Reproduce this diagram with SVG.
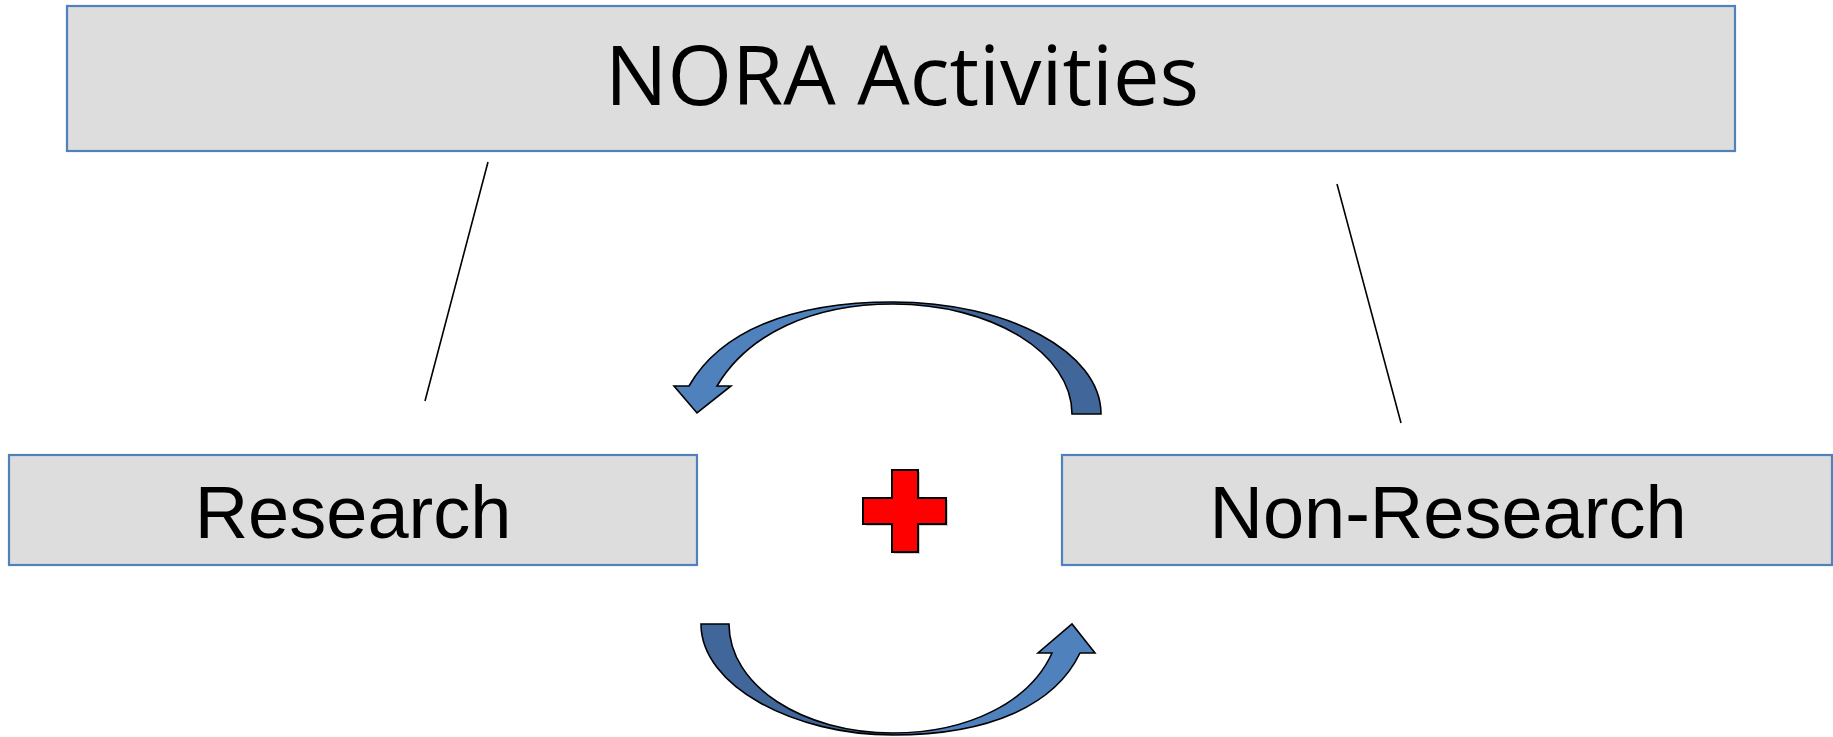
<svg xmlns="http://www.w3.org/2000/svg" width="1833" height="737" viewBox="0 0 1833 737">
<style>
.box{fill:#DDDDDD;stroke:#4F81BD;stroke-width:2.2}
.lbl{font-family:"Liberation Sans",Arial,sans-serif;font-size:74px;fill:#000;text-anchor:middle}
.title{font-family:"Open Sans",sans-serif;font-size:83px;fill:#000;text-anchor:middle}
.conn{stroke:#000;stroke-width:1.6;fill:none}
.arrow{stroke:#000;stroke-width:1.6;stroke-linejoin:miter}
</style>
<defs>
<linearGradient id="gTop" gradientUnits="userSpaceOnUse" x1="670" y1="0" x2="1105" y2="0">
<stop offset="0" stop-color="#4F81BD"/><stop offset="0.51" stop-color="#4F81BD"/><stop offset="0.51" stop-color="#41679A"/><stop offset="1" stop-color="#41679A"/>
</linearGradient>
<linearGradient id="gBot" gradientUnits="userSpaceOnUse" x1="697" y1="0" x2="1099" y2="0">
<stop offset="0" stop-color="#41679A"/><stop offset="0.49" stop-color="#41679A"/><stop offset="0.49" stop-color="#4F81BD"/><stop offset="1" stop-color="#4F81BD"/>
</linearGradient>
</defs>
<g id="connectors">
<line class="conn" x1="488" y1="162" x2="425" y2="401"/>
<line class="conn" x1="1337" y1="184" x2="1401" y2="423"/>
<path id="arrow-top" class="arrow" fill="url(#gTop)" d="M1101,414 C1101,352 1008,302 893,302 C790,302 720,332 689,386 L674,386 L697,413 L731,386 L717,386 C748,334 812,304 893,304 C992,304 1072,353 1072,414 Z"/>
<path id="arrow-bottom" class="arrow" fill="url(#gBot)" d="M701,624 C701,686 794,735 893,735 C990,735 1055,705 1080,653 L1095,653 L1072,624 L1038,653 L1052,653 C1030,702 968,733 893,733 C803,733 729,686 729,624 Z"/>
</g>
<g id="node-nora">
<rect class="box" x="67" y="6" width="1668" height="145"/>
<text class="title" x="902" y="105">NORA Activities</text>
</g>
<g id="node-research">
<rect class="box" x="9" y="455" width="688" height="110"/>
<text class="lbl" x="353" y="538">Research</text>
</g>
<g id="node-nonresearch">
<rect class="box" x="1062" y="455" width="770" height="110"/>
<text class="lbl" x="1448" y="538">Non-Research</text>
</g>
<g id="node-plus">
<path d="M894,472 L920,472 L920,500 L948,500 L948,526 L920,526 L920,554 L894,554 L894,526 L866,526 L866,500 L894,500 Z" fill="#B0B0B0" opacity="0.6"/>
<path d="M892,470 L918,470 L918,498 L946,498 L946,524 L918,524 L918,552 L892,552 L892,524 L863,524 L863,498 L892,498 Z" fill="#FF0000" stroke="#000" stroke-width="2"/>
</g>
</svg>
